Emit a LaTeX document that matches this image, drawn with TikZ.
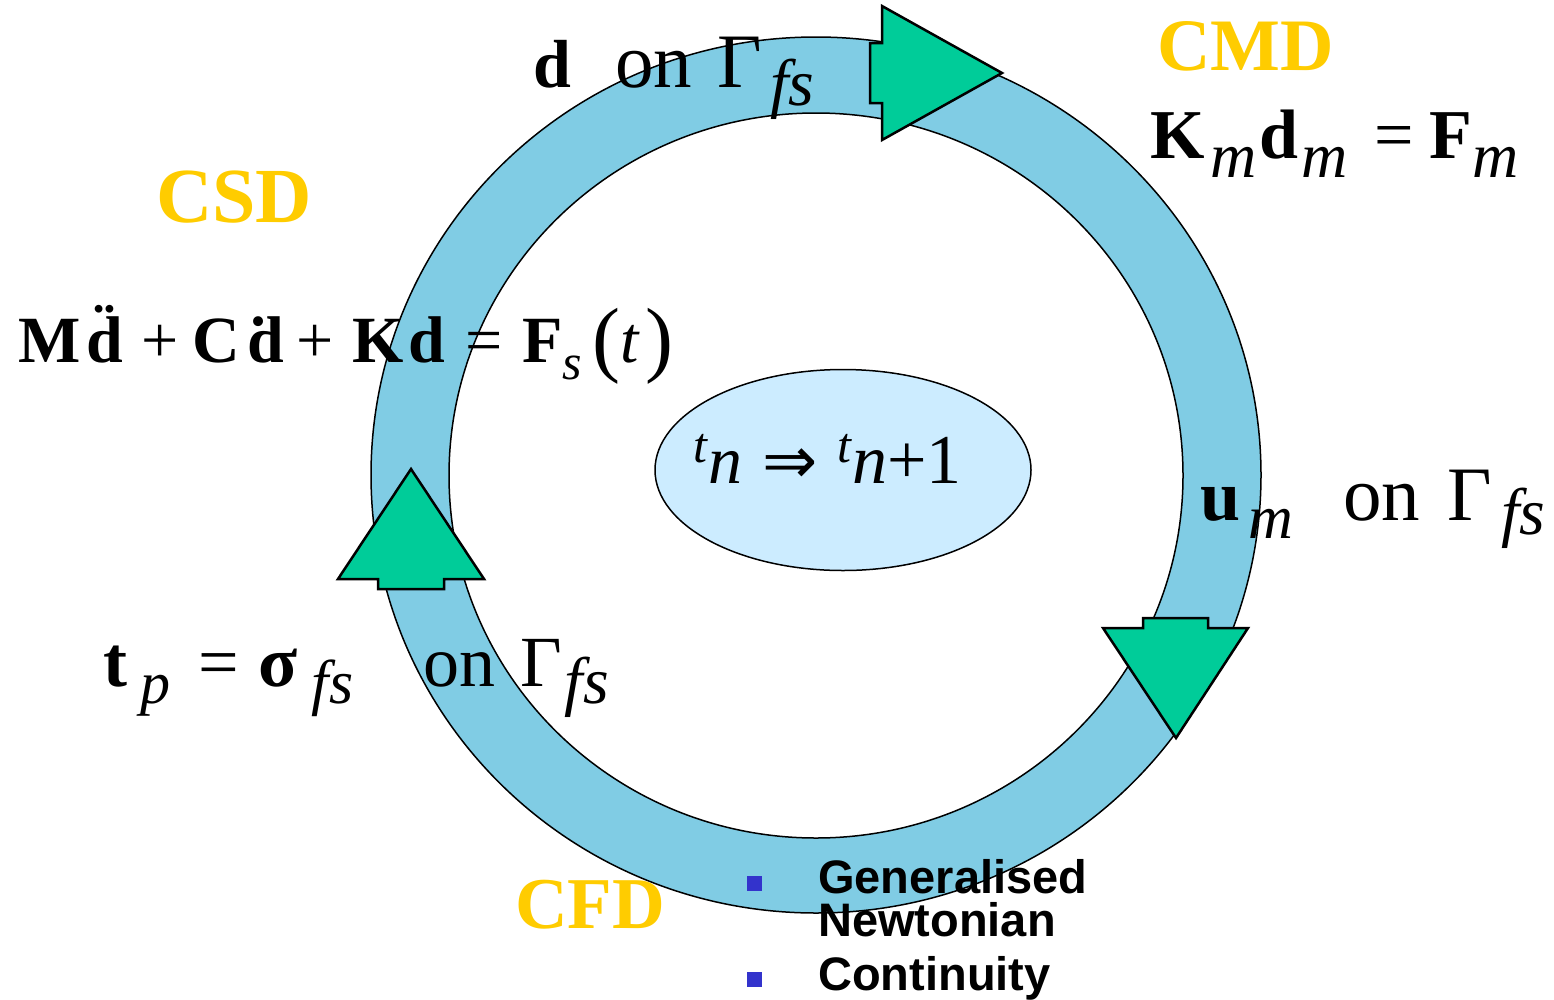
\documentclass[tikz,border=0pt]{standalone}
\usepackage{fontspec}
\setmainfont{Liberation Serif}
\newfontfamily\bulfont{Liberation Sans}
\newfontfamily\symfont{DejaVu Sans}
\usetikzlibrary{shapes.geometric}
\definecolor{ringblue}{RGB}{128,204,228}
\definecolor{paleblue}{RGB}{204,236,255}
\definecolor{arrowgreen}{RGB}{0,204,153}
\definecolor{gold}{RGB}{255,204,0}
\definecolor{bulblue}{RGB}{51,51,204}
\newcommand{\fsz}[1]{\fontsize{#1}{#1}\selectfont}
\newcommand{\lowsub}[3]{\raisebox{-#1pt}{\fsz{#2}\textit{#3}}}
\tikzset{
  ttl/.style={inner sep=0pt, anchor=base west, text=gold, font=\bfseries},
  eqn/.style={inner sep=0pt, anchor=base west, text=black},
  bul/.style={inner sep=0pt, anchor=base west, font=\bulfont\bfseries\fsz{47}},
  bulsq/.style={fill=bulblue, inner sep=0pt, minimum size=15pt},
  blockarrow/.style={fill=arrowgreen, draw=black, line width=2.5pt, line join=miter},
}
\begin{document}
\begin{tikzpicture}[x=1pt,y=-1pt]
\useasboundingbox (0,0) rectangle (1554,999);
% ring
\path[fill=ringblue, draw=black, line width=1.5pt, even odd rule]
  (816,475) ellipse [x radius=445pt, y radius=438pt]
  (816,475.5) ellipse [x radius=367pt, y radius=362.5pt];
% block arrows
\draw[blockarrow] (882,6) -- (1002,73) -- (882,140) -- (882,103) -- (870,103) -- (870,43) -- (882,43) -- cycle;
\draw[blockarrow] (1103,628) -- (1143,628) -- (1143,618) -- (1208,618) -- (1208,628) -- (1248,628) -- (1176,738) -- cycle;
\draw[blockarrow] (411,469) -- (484,579) -- (444,579) -- (444,589) -- (378,589) -- (378,579) -- (338,579) -- cycle;
% centre ellipse
\node[ellipse, draw=black, line width=1.5pt, fill=paleblue, minimum width=376pt, minimum height=201pt, inner sep=0pt] (clock) at (843,470) {};
\node[eqn] (step) at (693,483) {\raisebox{21pt}{\fsz{50}\textit{t}}\fsz{68}\textit{n}\hspace{20pt}{\symfont\fsz{66}⇒}\hspace{20pt}\raisebox{21pt}{\fsz{50}\textit{t}}\fsz{70}\textit{n}+1};
% titles
\node[ttl, font=\bfseries\fsz{78}] (csd) at (156,222) {CSD};
\node[ttl, font=\bfseries\fsz{74}] (cmd) at (1157,70) {CMD};
\node[ttl, font=\bfseries\fsz{73}] (cfd) at (515,928) {CFD};
% equations
\node[eqn] (eqcsd) at (18,362) {\fsz{66}\textbf{M}\hspace{6pt}\textbf{\"d}\hspace{9pt}+\hspace{14pt}\textbf{C}\hspace{7pt}\textbf{\.d}\hspace{12pt}+\hspace{19pt}\textbf{K}\hspace{5pt}\textbf{d}\hspace{20pt}=\hspace{20pt}\textbf{F}\lowsub{17}{50}{s}\hspace{10pt}\raisebox{-4pt}{\fsz{84}(}\textit{t}\hspace{6pt}\raisebox{-4pt}{\fsz{84})}};
\node[eqn] (eqtop) at (533,87) {\fsz{68}\textbf{d}\hspace{44pt}\fsz{77}on\hspace{26pt}Γ\hspace{8pt}\lowsub{18}{66}{fs}};
\node[eqn] (eqcmd) at (1150,158) {\fsz{70}\textbf{K}\hspace{6pt}\lowsub{19}{64}{m}\hspace{3pt}\textbf{d}\hspace{3pt}\lowsub{19}{64}{m}\hspace{26pt}=\hspace{16pt}\textbf{F}\lowsub{19}{64}{m}};
\node[eqn] (equm) at (1200,520) {\fsz{72}\textbf{u}\hspace{8pt}\lowsub{18}{62}{m}\hspace{50pt}\fsz{77}on\hspace{28pt}Γ\hspace{9pt}\lowsub{14}{66}{fs}};
\node[eqn] (eqtp) at (103,686) {\fsz{72}\textbf{t}\hspace{13pt}\lowsub{17}{60}{p}\hspace{28pt}=\hspace{20pt}\textbf{σ}\hspace{14pt}\lowsub{17}{62}{fs}\hspace{70pt}on\hspace{25pt}Γ\hspace{3pt}\lowsub{17}{66}{fs}};
% bullets
\node[bulsq] (sq1) at (754,883) {};
\node[bulsq] (sq2) at (754,979) {};
\node[bul] (gen) at (818,893) {Generalised};
\node[bul] (newt) at (818,936) {Newtonian};
\node[bul] (cont) at (818,990) {Continuity};
\end{tikzpicture}
\end{document}
